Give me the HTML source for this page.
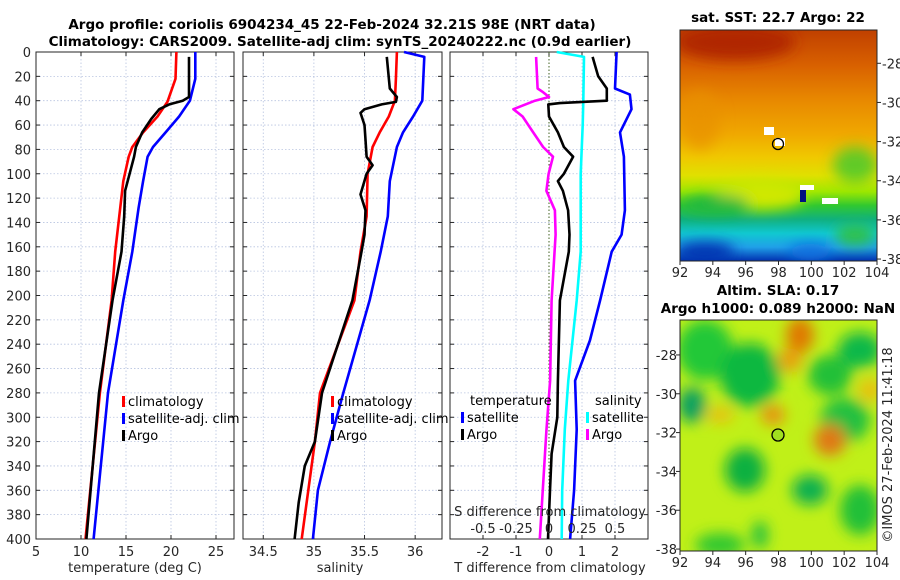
<!DOCTYPE html>
<html><head><meta charset="utf-8">
<style>
html,body{margin:0;padding:0;background:#fff;}
svg{display:block;font-family:"DejaVu Sans","Liberation Sans",sans-serif;}
.tk{font-size:13px;fill:#262626;}
.ttl{font-size:13.5px;font-weight:bold;fill:#000;}
.lg{font-size:13px;fill:#000;}
</style></head>
<body>
<svg id="chart" width="900" height="580" viewBox="0 0 900 580" xmlns="http://www.w3.org/2000/svg">
<defs>
<linearGradient id="sstGrad" x1="0" y1="0" x2="0" y2="1">
<stop offset="0" stop-color="#c04000"/>
<stop offset="0.15" stop-color="#d86000"/>
<stop offset="0.3" stop-color="#e88800"/>
<stop offset="0.45" stop-color="#f0a800"/>
<stop offset="0.55" stop-color="#f0c800"/>
<stop offset="0.63" stop-color="#e0e000"/>
<stop offset="0.7" stop-color="#a0e800"/>
<stop offset="0.76" stop-color="#30c830"/>
<stop offset="0.82" stop-color="#10b080"/>
<stop offset="0.88" stop-color="#10c8d0"/>
<stop offset="0.94" stop-color="#20a0e8"/>
<stop offset="1" stop-color="#0030b0"/>
</linearGradient>
<filter id="blur6"><feGaussianBlur stdDeviation="7"/></filter>
<clipPath id="clipM1"><rect x="680" y="30" width="197" height="231"/></clipPath>
<clipPath id="clipM2"><rect x="680" y="320" width="197" height="231"/></clipPath>
</defs>

<text class="ttl" x="332" y="29" text-anchor="middle">Argo profile: coriolis 6904234_45 22-Feb-2024 32.21S 98E (NRT data)</text>
<text class="ttl" x="340" y="46" text-anchor="middle">Climatology: CARS2009. Satellite-adj clim: synTS_20240222.nc (0.9d earlier)</text>

<g id="p1"></g>
<g id="p2"></g>
<g id="p3"></g>

<!-- SST map -->
<g>
<text class="ttl" x="778" y="22" text-anchor="middle">sat. SST: 22.7 Argo: 22</text>
<g clip-path="url(#clipM1)">
<rect x="680" y="30" width="197" height="231" fill="url(#sstGrad)"/>
<g filter="url(#blur6)">
<ellipse cx="735" cy="42" rx="60" ry="18" fill="#b02800"/>
<ellipse cx="700" cy="120" rx="20" ry="30" fill="#e89000" opacity="0.7"/>
<ellipse cx="760" cy="195" rx="45" ry="15" fill="#d0e800"/>
<ellipse cx="855" cy="165" rx="22" ry="18" fill="#40c830" opacity="0.8"/>
<ellipse cx="715" cy="205" rx="35" ry="10" fill="#20b840"/>
<ellipse cx="705" cy="252" rx="30" ry="10" fill="#0030b0"/>
<ellipse cx="855" cy="235" rx="20" ry="10" fill="#30c040"/>
<ellipse cx="810" cy="252" rx="22" ry="8" fill="#1070e0"/>
</g>
<rect x="775" y="138" width="10" height="8" fill="#fff"/>
<rect x="764" y="127" width="10" height="8" fill="#fff"/>
<rect x="800" y="185" width="14" height="5" fill="#fff"/>
<rect x="822" y="198" width="16" height="6" fill="#fff"/>
<rect x="800" y="190" width="6" height="12" fill="#001080"/>
</g>
<rect x="680" y="30" width="197" height="231" fill="none" stroke="#262626" stroke-width="1"/>
<circle cx="778" cy="144" r="5.5" fill="none" stroke="#000" stroke-width="1.3"/>
<g id="m1ax"></g>
</g>

<!-- SLA map -->
<g>
<text class="ttl" x="778" y="295" text-anchor="middle">Altim. SLA: 0.17</text>
<text class="ttl" x="778" y="313" text-anchor="middle">Argo h1000: 0.089 h2000: NaN</text>
<g clip-path="url(#clipM2)">
<rect x="680" y="320" width="197" height="231" fill="#c0f018"/>
<g filter="url(#blur6)">
<ellipse cx="705" cy="350" rx="28" ry="30" fill="#20c838"/>
<ellipse cx="750" cy="375" rx="30" ry="32" fill="#10b840"/>
<ellipse cx="692" cy="405" rx="14" ry="18" fill="#10a060"/>
<ellipse cx="830" cy="375" rx="22" ry="20" fill="#20c038"/>
<ellipse cx="860" cy="350" rx="22" ry="18" fill="#10b848"/>
<ellipse cx="845" cy="420" rx="25" ry="22" fill="#20c040"/>
<ellipse cx="745" cy="470" rx="20" ry="22" fill="#10b040"/>
<ellipse cx="810" cy="490" rx="18" ry="15" fill="#10b050"/>
<ellipse cx="860" cy="510" rx="20" ry="25" fill="#20c038"/>
<ellipse cx="720" cy="545" rx="25" ry="12" fill="#30c830"/>
<ellipse cx="760" cy="535" rx="8" ry="14" fill="#20c040"/>
<ellipse cx="800" cy="335" rx="14" ry="18" fill="#e07800"/>
<ellipse cx="790" cy="360" rx="12" ry="12" fill="#e8a010"/>
<ellipse cx="830" cy="440" rx="16" ry="16" fill="#e07818"/>
<ellipse cx="773" cy="415" rx="12" ry="10" fill="#e89010"/>
<ellipse cx="720" cy="415" rx="14" ry="8" fill="#e8c010"/>
<ellipse cx="870" cy="390" rx="12" ry="12" fill="#e8c010"/>
</g>
</g>
<rect x="680" y="320" width="197" height="231" fill="none" stroke="#262626" stroke-width="1"/>
<circle cx="778" cy="435" r="6" fill="#a0e020" stroke="#000" stroke-width="1.3"/>
<g id="m2ax"></g>
</g>

<text class="tk" transform="translate(892,445) rotate(-90)" text-anchor="middle">©IMOS 27-Feb-2024 11:41:18</text>
</svg>

<script>
// ---- data ----
var tempClimDepth = [0,22,41,53,66,78,86,106,164,204,280,400];
var tempClim      = [20.6,20.5,19.6,18.5,16.9,15.7,15.3,14.7,13.8,13.4,12.1,10.5];
var tempSatDepth  = [0,22,40,53,66,78,86,106,128,164,204,280,400];
var tempSat       = [22.7,22.7,22.1,20.9,19.4,18.0,17.4,16.9,16.4,15.7,14.7,13.0,11.4];
var tempArgoDepth = [4,37,40,43,47,55,66,78,86,100,114,135,164,204,280,400];
var tempArgo      = [22.0,22.0,21.3,19.8,18.7,17.8,16.8,16.1,15.9,15.4,14.9,14.8,14.5,13.5,12.0,10.6];

var salClimDepth = [0,22,40,53,66,78,100,135,164,204,280,320,400];
var salClim      = [35.82,35.81,35.80,35.74,35.65,35.58,35.53,35.52,35.46,35.40,35.06,35.01,34.88];
var salSatDepth  = [0,4,40,53,66,78,106,135,164,204,280,320,360,400];
var salSat       = [35.89,36.09,36.07,35.98,35.88,35.82,35.75,35.73,35.66,35.55,35.29,35.16,35.04,34.99];
var salArgoDepth = [4,30,37,41,43,47,50,60,72,86,93,100,117,130,150,164,204,280,320,340,370,400];
var salArgo      = [35.72,35.75,35.82,35.81,35.67,35.50,35.46,35.50,35.51,35.52,35.58,35.52,35.46,35.51,35.50,35.47,35.38,35.08,35.01,34.91,34.85,34.81];

var dTsatDepth = [0,30,35,47,66,86,130,150,164,204,237,270,310,360,400];
var dTsat      = [2.05,2.0,2.45,2.5,2.15,2.27,2.3,2.2,1.9,1.55,1.24,0.79,0.84,0.76,0.64];
var dTargoDepth = [4,20,30,40,42,43,53,66,78,86,100,106,114,130,150,164,204,270,300,330,360,400];
var dTargo      = [1.32,1.49,1.75,1.75,0.33,-0.02,0.0,0.27,0.45,0.73,0.45,0.27,0.42,0.58,0.62,0.6,0.33,0.27,0.25,0.08,0.03,-0.03];
var dSsatDepth = [0,4,40,60,100,150,164,204,270,310,360,400];
var dSsat      = [0.058,0.265,0.26,0.255,0.24,0.24,0.24,0.21,0.146,0.12,0.10,0.096];
var dSargoDepth = [4,30,33,37,40,47,53,66,78,86,100,114,130,150,204,270,311,400];
var dSargo      = [-0.098,-0.086,-0.045,0.0,-0.106,-0.27,-0.20,-0.12,-0.045,0.03,-0.003,-0.02,0.045,0.05,0.02,0.008,-0.02,-0.07];

var depthTicks = [0,20,40,60,80,100,120,140,160,180,200,220,240,260,280,300,320,340,360,380,400];
var tempTicks = [5,10,15,20,25];
var salTicks = [34.5,35,35.5,36];
var dTTicks = [-2,-1,0,1,2];
var dSTicks = [-0.5,-0.25,0,0.25,0.5];
var dSTickLabels = ['-0.5','-0.25','0','0.25','0.5'];
var lonTicks = [92,94,96,98,100,102,104];
var latTicks = [-28,-30,-32,-34,-36,-38];

// ---- axes ----
var TOP=52, BOT=539;
function yD(d){return TOP + d*(BOT-TOP)/400;}
function lin(d0,d1,r0,r1){return function(v){return r0+(v-d0)*(r1-r0)/(d1-d0);};}
var xT = lin(5,27,36,234);
var xS = lin(34.3,36.265,243,442);
var xdT = lin(-3,3,450,648);
var xdS = lin(-0.75,0.75,450,648);

var NS='http://www.w3.org/2000/svg';
function mk(tag,attrs,parent){var e=document.createElementNS(NS,tag);for(var k in attrs)e.setAttribute(k,attrs[k]);parent.appendChild(e);return e;}

function frame(g,x0,x1,xs,ticks,labels,showY){
  var i,x,y,t,e;
  for(i=0;i<ticks.length;i++){x=xs(ticks[i]);
    e=mk('line',{x1:x,x2:x,y1:TOP,y2:BOT,stroke:'#b8c4e0','stroke-width':0.8,'stroke-dasharray':'1.5,2'},g);
    
    
  }
  for(i=0;i<depthTicks.length;i++){y=yD(depthTicks[i]);
    e=mk('line',{x1:x0,x2:x1,y1:y,y2:y,stroke:'#b8c4e0','stroke-width':0.8,'stroke-dasharray':'1.5,2'},g);
    
    
    mk('line',{x1:x0,x2:x0+4,y1:y,y2:y,stroke:'#262626'},g);
    mk('line',{x1:x1,x2:x1-4,y1:y,y2:y,stroke:'#262626'},g);
    if(showY){t=mk('text',{x:x0-5,y:y+5,'text-anchor':'end','class':'tk'},g);t.textContent=depthTicks[i];
      
      }
  }
  if(labels){for(i=0;i<ticks.length;i++){x=xs(ticks[i]);
    mk('line',{x1:x,x2:x,y1:BOT,y2:BOT-4,stroke:'#262626'},g);
    mk('line',{x1:x,x2:x,y1:TOP,y2:TOP+4,stroke:'#262626'},g);
    t=mk('text',{x:x,y:BOT+17,'text-anchor':'middle','class':'tk'},g);t.textContent=labels[i];
    
    }}
  e=mk('rect',{x:x0,y:TOP,width:x1-x0,height:BOT-TOP,fill:'none',stroke:'#262626','stroke-width':1},g);
  
  
}
function series(g,xs,depths,vals,col,name){
  var p='';for(var i=0;i<vals.length;i++){p+=(i?'L':'M')+xs(vals[i]).toFixed(1)+','+yD(depths[i]).toFixed(1);}
  var e=mk('path',{d:p,fill:'none',stroke:col,'stroke-width':2.6,'stroke-linejoin':'round'},g);
  
  
}
function legend(g,x,y,items){
  for(var i=0;i<items.length;i++){var yy=y+i*17;
    var b=mk('rect',{x:x,y:yy-10,width:3,height:11,fill:items[i][1]},g);
    
    
    var t=mk('text',{x:x+6,y:yy,'class':'lg'},g);t.textContent=items[i][0];
    
    }
}
function xlabel(g,x,y,s,name){var t=mk('text',{x:x,y:y,'text-anchor':'middle','class':'tk'},g);t.textContent=s;
  
  }

var g1=document.getElementById('p1');
frame(g1,36,234,xT,tempTicks,tempTicks,true);
series(g1,xT,tempClimDepth,tempClim,'#ff0000','temp-climatology-line');
series(g1,xT,tempSatDepth,tempSat,'#0000ff','temp-satellite-line');
series(g1,xT,tempArgoDepth,tempArgo,'#000000','temp-argo-line');
legend(g1,122,406,[['climatology','#ff0000'],['satellite-adj. clim','#0000ff'],['Argo','#000000']]);
xlabel(g1,135,572,'temperature (deg C)','temperature-axis-title');

var g2=document.getElementById('p2');
frame(g2,243,442,xS,salTicks,['34.5','35','35.5','36'],false);
series(g2,xS,salClimDepth,salClim,'#ff0000','sal-climatology-line');
series(g2,xS,salSatDepth,salSat,'#0000ff','sal-satellite-line');
series(g2,xS,salArgoDepth,salArgo,'#000000','sal-argo-line');
legend(g2,331,406,[['climatology','#ff0000'],['satellite-adj. clim','#0000ff'],['Argo','#000000']]);
xlabel(g2,340,572,'salinity','salinity-axis-title');

var g3=document.getElementById('p3');
frame(g3,450,648,xdT,dTTicks,dTTicks,false);
var z=mk('line',{x1:xdT(0),x2:xdT(0),y1:TOP,y2:BOT,stroke:'#406020','stroke-width':1,'stroke-dasharray':'1.5,2'},g3);


series(g3,xdS,dSargoDepth,dSargo,'#ff00ff','sal-argo-diff-line');
series(g3,xdS,dSsatDepth,dSsat,'#00ffff','sal-satellite-diff-line');
series(g3,xdT,dTsatDepth,dTsat,'#0000ff','temp-satellite-diff-line');
series(g3,xdT,dTargoDepth,dTargo,'#000000','temp-argo-diff-line');
(function(){var t=mk('text',{x:470,y:405,'class':'lg'},g3);t.textContent='temperature';
 
 
 t=mk('text',{x:595,y:405,'class':'lg'},g3);t.textContent='salinity';
 
 })();
legend(g3,461,422,[['satellite','#0000ff'],['Argo','#000000']]);
legend(g3,586,422,[['satellite','#00ffff'],['Argo','#ff00ff']]);
xlabel(g3,550,516,'S difference from climatology','s-diff-axis-title');
for(var i=0;i<dSTicks.length;i++){var tt=mk('text',{x:xdS(dSTicks[i]),y:533,'text-anchor':'middle','class':'tk'},g3);tt.textContent=dSTickLabels[i];
  
  }
xlabel(g3,550,572,'T difference from climatology','t-diff-axis-title');

function mapAxes(id,top,bottom,latTop,latBot,leftLabels){
  var g=document.getElementById(id);
  var xl=lin(92,104,680,877), yl=lin(latTop,latBot,top,bottom), i, t, v;
  for(i=0;i<lonTicks.length;i++){v=xl(lonTicks[i]);
    mk('line',{x1:v,x2:v,y1:bottom,y2:bottom+4,stroke:'#262626'},g);
    t=mk('text',{x:v,y:bottom+16,'text-anchor':'middle','class':'tk'},g);t.textContent=lonTicks[i];
    
    }
  for(i=0;i<latTicks.length;i++){v=yl(latTicks[i]);
    if(leftLabels){
      mk('line',{x1:676,x2:680,y1:v,y2:v,stroke:'#262626'},g);
      t=mk('text',{x:677,y:v+5,'text-anchor':'end','class':'tk'},g);
    } else {
      mk('line',{x1:877,x2:881,y1:v,y2:v,stroke:'#262626'},g);
      t=mk('text',{x:882,y:v+5,'class':'tk'},g);
    }
    t.textContent=latTicks[i];
    
    }
}
mapAxes('m1ax',30,261,-26.3,-38.1,false);
mapAxes('m2ax',320,551,-26.2,-38.1,true);
</script>
</body></html>
